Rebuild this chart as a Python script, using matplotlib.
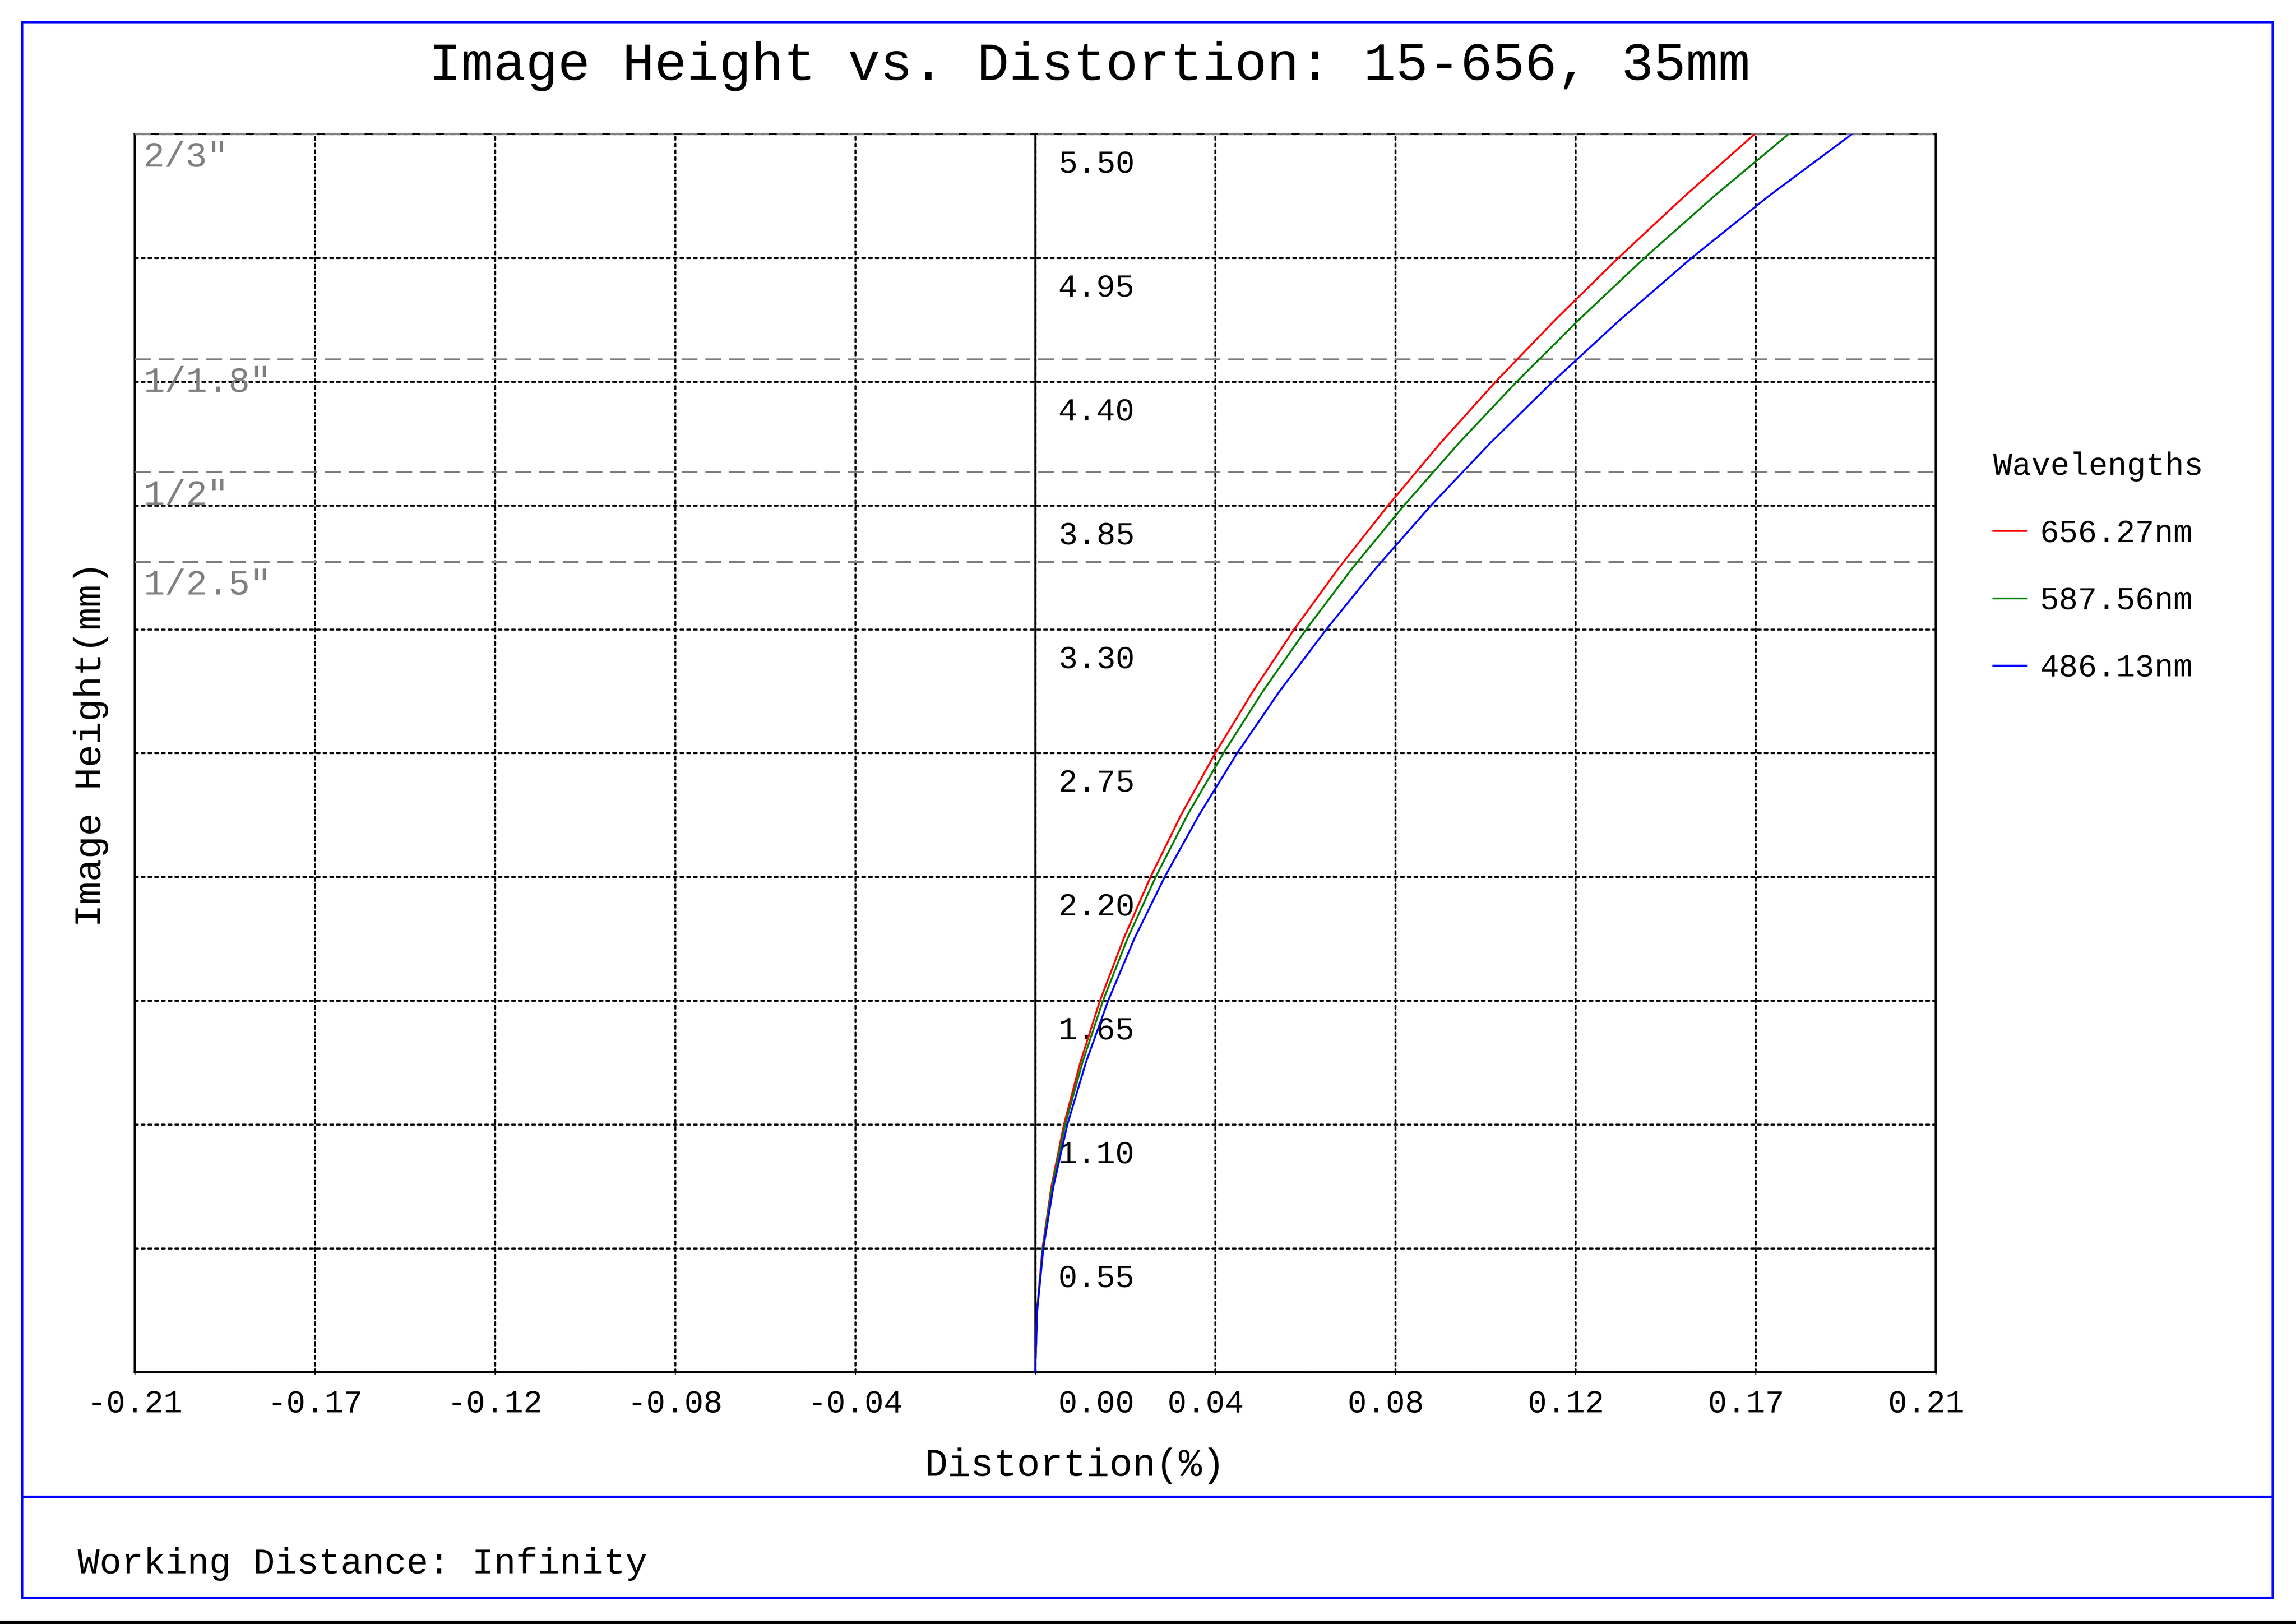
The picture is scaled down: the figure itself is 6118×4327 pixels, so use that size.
import numpy as np
import matplotlib
matplotlib.use("Agg")
import matplotlib.pyplot as plt
from matplotlib.patches import Rectangle
from matplotlib.lines import Line2D

plt.rcParams['font.family'] = ['Liberation Mono', 'DejaVu Sans']

# image height (mm) and distortion (%)
height = [0.0, 0.275, 0.55, 0.825, 1.10, 1.375, 1.65, 1.925, 2.20, 2.475, 2.75,
          3.025, 3.30, 3.575, 3.85, 4.125, 4.40, 4.675, 4.95, 5.225, 5.50]
dist_656 = [0.0, 0.00042, 0.00168, 0.00378, 0.0067, 0.0105, 0.0151, 0.0206, 0.0269, 0.0340, 0.0420,
            0.0508, 0.0604, 0.0709, 0.0823, 0.0944, 0.1074, 0.1213, 0.1360, 0.1515, 0.1678]
dist_587 = [0.0, 0.00044, 0.00175, 0.00395, 0.0070, 0.0110, 0.0158, 0.0215, 0.0281, 0.0355, 0.0439,
            0.0531, 0.0632, 0.0741, 0.0860, 0.0987, 0.1123, 0.1268, 0.1421, 0.1584, 0.1757]
dist_486 = [0.0, 0.00047, 0.00189, 0.00424, 0.0075, 0.0118, 0.0170, 0.0231, 0.0302, 0.0382, 0.0471,
            0.0570, 0.0679, 0.0796, 0.0923, 0.1060, 0.1207, 0.1364, 0.1531, 0.1711, 0.1905]
wavelengths = ["656.27nm", "587.56nm", "486.13nm"]
colors = ["#ff0000", "#008000", "#0000ff"]

x_ticks = [-0.21, -0.168, -0.126, -0.084, -0.042, 0.0, 0.042, 0.084, 0.126, 0.168, 0.21]
x_labels = ["-0.21", "-0.17", "-0.12", "-0.08", "-0.04", "0.00", "0.04 ", "0.08 ", "0.12 ", "0.17 ", "0.21 "]
y_ticks = [0.0, 0.55, 1.10, 1.65, 2.20, 2.75, 3.30, 3.85, 4.40, 4.95, 5.50]
y_labels = ["", "0.55", "1.10", "1.65", "2.20", "2.75", "3.30", "3.85", "4.40", "4.95", "5.50"]

sensor_names = ['2/3"', '1/1.8"', '1/2"', '1/2.5"']
sensor_heights = [5.5, 4.5, 4.0, 3.6]

W, H = 6118, 4327
fig = plt.figure(figsize=(W / 100, H / 100), dpi=100)
ax = fig.add_axes([359 / W, 1 - 3656 / H, (5158 - 359) / W, (3656 - 357) / H])

ax.set_xlim(-0.21, 0.21)
ax.set_ylim(0, 5.5)
ax.set_xticks(x_ticks)
ax.set_yticks(y_ticks)
ax.set_xticklabels([])
ax.set_yticklabels([])
ax.tick_params(axis='x', length=4, width=2, direction='out')
ax.tick_params(axis='y', length=0)
ax.grid(True, color='black', linestyle=(0, (1.5, 1.9)), linewidth=3.8,
        dash_capstyle='round')
ax.set_axisbelow(True)
for s in ax.spines.values():
    s.set_linewidth(4)
    s.set_color('black')

ax.axvline(0, color='black', lw=4, zorder=2)

# sensor format lines
for name, h in zip(sensor_names, sensor_heights):
    ax.axhline(h, color='#808080', linestyle=(0, (8, 4)), lw=3.8, zorder=3, clip_on=False)
    ax.text(-0.208, h - 0.105, name, color='#808080', fontsize=68, ha='left', va='center')

lines = []
for d, c, lab in zip([dist_656, dist_587, dist_486], colors, wavelengths):
    ln, = ax.plot(d, height, color=c, lw=3.6, label=lab, zorder=4)
    lines.append(ln)

# tick labels drawn as text
for xt, xl in zip(x_ticks, x_labels):
    if xl == "0.00":
        ax.text(0.0054, -0.142, xl, fontsize=61, ha='left', va='center')
    else:
        ax.text(xt, -0.142, xl, fontsize=61, ha='center', va='center')
for yt, yl in zip(y_ticks, y_labels):
    if yl:
        ax.text(0.0054, yt - 0.135, yl, fontsize=61, ha='left', va='center')

leg = ax.legend(handles=lines, title='Wavelengths', loc='upper left',
                bbox_to_anchor=(5311 / W, 0.7220), bbox_transform=fig.transFigure,
                frameon=False, fontsize=61, title_fontsize=61, handlelength=1.05,
                handletextpad=0.42, labelspacing=1.17, alignment='left',
                borderpad=0, borderaxespad=0)

fig.text(2903 / W, 1 - 176 / H, "Image Height vs. Distortion: 15-656, 35mm",
         fontsize=103, ha='center', va='center')
fig.text(2864 / W, 1 - 3906 / H, "Distortion(%)", fontsize=74, ha='center', va='center')
fig.text(242 / W, 1 - 1983 / H, "Image Height(mm)", fontsize=73, ha='center', va='center',
         rotation=90)
fig.text(207 / W, 1 - 4167 / H, "Working Distance: Infinity", fontsize=70,
         ha='left', va='center')

# blue frame and divider
fig.add_artist(Rectangle((59 / W, 1 - 4257 / H), (6056 - 59) / W, (4257 - 59) / H,
                         fill=False, edgecolor='#0000ff', lw=4.5, transform=fig.transFigure))
fig.add_artist(Line2D([59 / W, 6056 / W], [1 - 3988 / H] * 2, color='#0000ff', lw=4.5,
                      transform=fig.transFigure))
fig.add_artist(Rectangle((0, 0), 1, 9 / H, facecolor='black', edgecolor='none',
                         transform=fig.transFigure))

fig.savefig("out.png", dpi=100, facecolor='white')
